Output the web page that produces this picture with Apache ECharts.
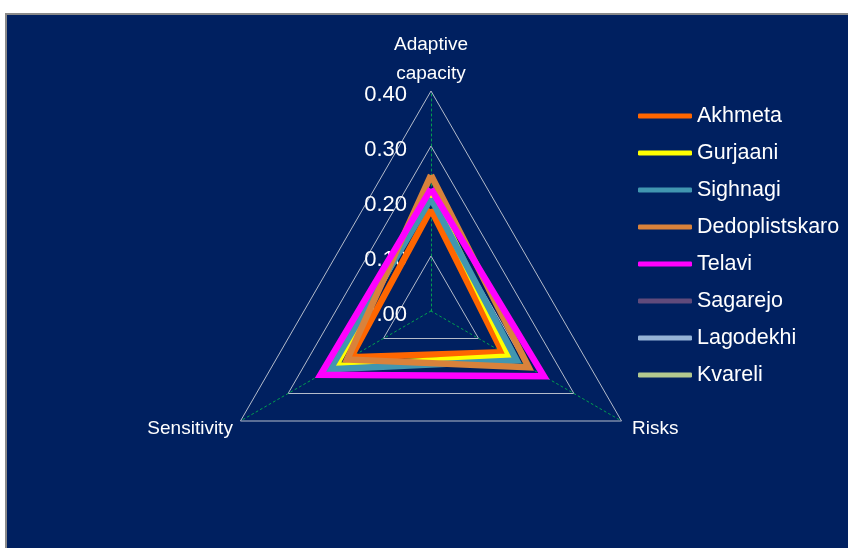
<!DOCTYPE html>
<html>
<head>
<meta charset="utf-8">
<script src="https://cdn.jsdelivr.net/npm/echarts@6/dist/echarts.min.js"></script>
<style>
  html, body { margin: 0; padding: 0; background: #ffffff; }
  #bg { position: absolute; left: 5px; top: 13px; width: 843px; height: 535px; background: #002060; border-left: 2px solid #8a8a8a; border-top: 2px solid #8a8a8a; box-sizing: border-box; }
  #chart { position: absolute; left: 0; top: 0; width: 848px; height: 548px; }
</style>
</head>
<body>
<div id="bg"></div>
<div id="chart"></div>
<script>
// ---- Data ----
// indicator order (counter-clockwise from top): Adaptive capacity, Sensitivity, Risks
const indicators = ['Adaptive\ncapacity', 'Sensitivity', 'Risks'];
const tickLabels = ['0.00', '0.10', '0.20', '0.30', '0.40'];
const districts = ['Akhmeta', 'Gurjaani', 'Sighnagi', 'Dedoplistskaro', 'Telavi', 'Sagarejo', 'Lagodekhi', 'Kvareli'];
const akhmeta = [0.185, 0.168, 0.150];
const gurjaani = [0.215, 0.200, 0.165];
const sighnagi = [0.205, 0.212, 0.180];
const dedoplistskaro = [0.247, 0.176, 0.205];
const telavi = [0.222, 0.232, 0.237];
const sagarejo = ['-', '-', '-'];
const lagodekhi = ['-', '-', '-'];
const kvareli = ['-', '-', '-'];
const colors = ['#FF6600', '#FFFF00', '#4196B0', '#D9823B', '#FF00FF', '#604A7B', '#95B3D7', '#B3C98F'];

const values = [akhmeta, gurjaani, sighnagi, dedoplistskaro, telavi, sagarejo, lagodekhi, kvareli];
const FONT = '"Liberation Sans", Arial, sans-serif';

const chart = echarts.init(document.getElementById('chart'), null, { renderer: 'canvas' });

const series = districts.map((name, i) => ({
  type: 'radar',
  name: name,
  color: colors[i],
  symbol: 'none',
  lineStyle: { color: colors[i], width: 6.5, join: 'miter' },
  itemStyle: { color: colors[i] },
  data: [{ name: name, value: values[i] }]
}));

chart.setOption({
  backgroundColor: 'transparent',
  animation: false,
  legend: {
    orient: 'vertical',
    left: 633,
    top: 100,
    data: districts,
    icon: 'roundRect',
    itemWidth: 54,
    itemHeight: 5,
    itemGap: 15,
    textStyle: { color: '#ffffff', fontSize: 21.5, fontFamily: FONT, padding: [0, 0, 0, 0] },
    selectedMode: false
  },
  radar: {
    center: [431, 311],
    radius: 220,
    startAngle: 90,
    shape: 'polygon',
    splitNumber: 4,
    nameGap: 3,
    axisName: {
      color: '#ffffff', fontSize: 19, fontFamily: FONT,
      formatter: (name) => name.indexOf('\n') >= 0
        ? name.split('\n').map(s => '{t|' + s + '}').join('\n')
        : '{b|' + name + '}',
      rich: {
        t: { color: '#ffffff', fontSize: 19, fontFamily: FONT, lineHeight: 29 },
        b: { color: '#ffffff', fontSize: 19, fontFamily: FONT, padding: [13, 5, 0, 8] }
      }
    },
    indicator: indicators.map((n, i) => ({
      name: n, min: 0, max: 0.4,
      axisLabel: { show: i === 0 }
    })),
    axisLine: { lineStyle: { color: '#00a050', type: [2, 3], width: 1 } },
    splitLine: { lineStyle: { color: '#b4bccb', width: 1 } },
    splitArea: { show: false },
    axisTick: { show: false },
    axisLabel: {
      show: false,
      color: '#ffffff',
      fontSize: 22,
      fontFamily: FONT,
      margin: 24,
      formatter: (v) => '{v|' + tickLabels[Math.round(v * 10)] + '}',
      rich: {
        v: { color: '#ffffff', fontSize: 22, fontFamily: FONT, padding: [8, 0, 0, 0] }
      }
    }
  },
  series: series
});
</script>
</body>
</html>
